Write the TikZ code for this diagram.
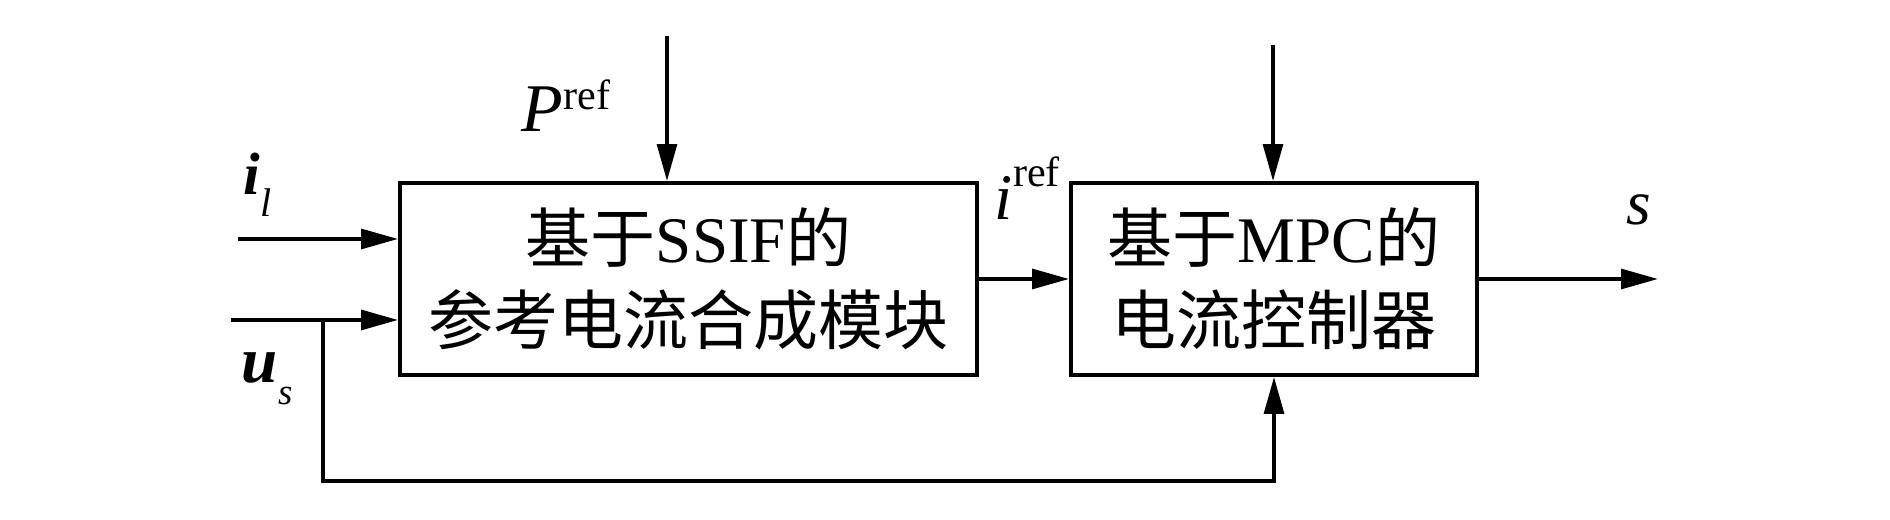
\documentclass[tikz,border=0pt]{standalone}
\usepackage{fontspec}
\setmainfont{Liberation Serif}[ItalicFont=* Italic, BoldFont=* Bold,
  BoldItalicFont=* Bold Italic]
\newfontfamily\cjk{Noto Sans CJK SC}
\usetikzlibrary{arrows.meta}

% small raised / lowered index
\newcommand{\idx}[3]{\raisebox{#1}{\fontsize{#2}{#2}\selectfont #3}}

\begin{document}
\begin{tikzpicture}[
        line width=1.1pt,
        sig/.style={-{Triangle[length=10.5pt,width=5.6pt]}},
        block/.style={draw, minimum height=1.92cm, align=center,
                      font=\fontsize{18.5}{23.3}\selectfont},
        lbl/.style={inner sep=0pt, anchor=base west}]

  \useasboundingbox (0,0) rectangle (18.9,5.2);

  % blocks --------------------------------------------------
  \node[block, minimum width=5.77cm] (ssif) at (6.885,2.41)
        {{\cjk 基于}SSIF{\cjk 的}\\{\cjk 参考电流合成模块}};
  \node[block, minimum width=4.06cm] (mpc) at (12.74,2.41)
        {{\cjk 基于}MPC{\cjk 的}\\{\cjk 电流控制器}};

  % inputs --------------------------------------------------
  \coordinate (ilin) at (2.38,2.81);
  \coordinate (usin) at (2.31,2.00);
  \coordinate (pin)  at (6.67,4.84);
  \coordinate (top)  at (12.73,4.75);
  \coordinate (fb)   at (3.23,2.00);
  \coordinate (fbbot) at (3.23,0.39);
  \coordinate (sout) at (16.58,2.41);

  \draw[sig] (ilin) -- (ilin -| ssif.west);
  \draw[sig] (usin) -- (usin -| ssif.west);
  \draw[sig] (pin) -- (pin |- ssif.north);
  \draw[sig] (top) -- (top |- mpc.north);
  \draw[sig] (ssif.east) -- (mpc.west);
  \draw[sig] (mpc.east) -- (sout);

  % feedback of u_s ----------------------------------------
  \draw[sig] (fb) -- (fbbot) -| (mpc.south);

  % labels --------------------------------------------------
  \node[lbl, font=\fontsize{17}{20}\selectfont] (il) at (2.42,3.25)
        {\textbf{\textit{i}}\idx{-6.2pt}{11.4}{\textit{l}}};
  \node[lbl, font=\fontsize{18.5}{20}\selectfont] (us) at (2.40,1.37)
        {\textbf{\textit{u}}\idx{-6pt}{10.5}{\textit{s}}};
  \node[lbl, font=\fontsize{19.4}{22}\selectfont] (pref) at (5.20,3.88)
        {\textit{P}\idx{6.3pt}{12}{ref}};
  \node[lbl, font=\fontsize{18.5}{22}\selectfont] (iref) at (9.93,3.00)
        {\textit{i}\idx{9.4pt}{12}{ref}};
  \node[lbl, font=\fontsize{18}{20}\selectfont] (s) at (16.25,2.95)
        {\textit{s}};

\end{tikzpicture}
\end{document}
